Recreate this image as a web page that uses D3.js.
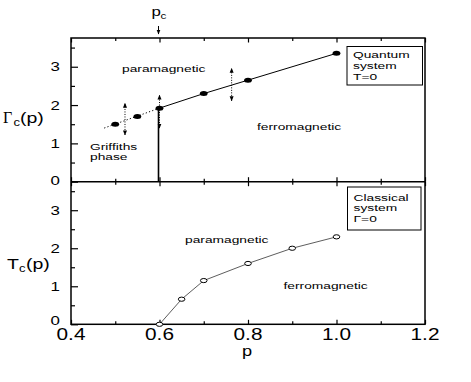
<!DOCTYPE html>
<html>
<head>
<meta charset="utf-8">
<script src="https://cdn.jsdelivr.net/npm/d3@7"></script>
<style>
body { margin: 0; background: #fff; }
text { font-family: "Liberation Sans", Arial, sans-serif; fill: #000; }
</style>
</head>
<body>
<div id="chart"></div>
<script>
// quantum system, T=0 : critical transverse field
const quantumP = [0.5, 0.55, 0.6, 0.7, 0.8, 1.0];
const quantumG = [1.5, 1.7, 1.92, 2.3, 2.65, 3.35];
// classical system, Gamma=0 : critical temperature
const classicalP = [0.6, 0.65, 0.7, 0.8, 0.9, 1.0];
const classicalT = [0, 0.66, 1.15, 1.6, 2.0, 2.3];
// dotted continuation into the Griffiths phase
const griffithsP = [0.475, 0.6];
const griffithsG = [1.4, 1.92];
// dotted double arrows
const arrowP = [0.522, 0.6, 0.763];
const arrowLo = [1.22, 1.4, 2.11];
const arrowHi = [2.05, 2.26, 2.96];
const pc = 0.6;
const xTicks = [0.4, 0.6, 0.8, 1.0, 1.2];
const xMinor = [0.5, 0.7, 0.9, 1.1];
const yTicks = [0, 1, 2, 3];
const yMinor = [0.5, 1.5, 2.5, 3.5];

const W = 471, H = 382;
const LEFT = 71, RIGHT = 425, TOP = 38, MID = 181.7, BOTTOM = 324.3;
const SX = 1.3;   // the original lettering is horizontally stretched
const SMALL = 9.5, SSX = 1.45; // annotation text

const svg = d3.select("#chart").append("svg")
  .attr("width", W)
  .attr("height", H);

const defs = svg.append("defs");
defs.append("marker")
  .attr("id", "head")
  .attr("viewBox", "0 0 10 10")
  .attr("refX", 9).attr("refY", 5)
  .attr("markerWidth", 5).attr("markerHeight", 5)
  .attr("markerUnits", "userSpaceOnUse")
  .attr("orient", "auto-start-reverse")
  .append("path")
  .attr("d", "M0,1L10,5L0,9Z")
  .attr("fill", "#000");

const x = d3.scaleLinear().domain([0.4, 1.2]).range([LEFT, RIGHT]);
const yU = d3.scaleLinear().domain([0, 3.75]).range([MID, TOP]);
const yL = d3.scaleLinear().domain([0, 3.75]).range([BOTTOM, MID]);

function label(x0, y0, txt, size, anchor, sx) {
  return svg.append("text")
    .attr("transform", `translate(${x0},${y0}) scale(${sx || SX},1)`)
    .attr("text-anchor", anchor || "start")
    .attr("font-size", size)
    .text(txt);
}
function note(x0, y0, txt) {
  return label(x0, y0, txt, SMALL, "start", SSX);
}

function styleAxis(g) {
  g.select(".domain").remove();
  g.selectAll("line").attr("stroke", "#000").attr("stroke-width", 1.2);
}

// y axes with inward ticks
[yU, yL].forEach((ys, i) => {
  svg.append("g")
    .attr("transform", `translate(${LEFT},0)`)
    .call(d3.axisLeft(ys).tickValues(yMinor).tickSize(-4).tickFormat(""))
    .call(styleAxis);
  const g = svg.append("g")
    .attr("transform", `translate(${LEFT},0)`)
    .call(d3.axisLeft(ys).tickValues(yTicks).tickSize(-7).tickPadding(11).tickFormat(d3.format("d")))
    .call(styleAxis);
  g.selectAll("text")
    .attr("font-size", 13)
    .attr("font-family", "Liberation Sans, Arial, sans-serif")
    .attr("x", -11 / SX)
    .attr("dy", d => (d === 0 && i === 1) ? "0.05em" : (d === 0 ? "0.2em" : "0.32em"))
    .attr("transform", `scale(${SX},1)`);
});

// x ticks: top of upper panel, shared middle line, bottom
[[TOP, false], [MID, true], [MID, false], [BOTTOM, true]].forEach(([yy, up]) => {
  const dir = up ? d3.axisBottom : d3.axisTop;
  svg.append("g")
    .attr("transform", `translate(0,${yy})`)
    .call(dir(x).tickValues(xTicks).tickSize(-4.5).tickFormat(""))
    .call(styleAxis);
  svg.append("g")
    .attr("transform", `translate(0,${yy})`)
    .call(dir(x).tickValues(xMinor).tickSize(-3).tickFormat(""))
    .call(styleAxis);
});

// x tick labels on the bottom panel
svg.append("g")
  .selectAll("text")
  .data(xTicks)
  .join("text")
  .attr("transform", d => `translate(${x(d)},339.5) scale(${SX},1)`)
  .attr("text-anchor", "middle")
  .attr("font-size", 16)
  .text(d3.format(".1f"));

// frames
svg.append("rect")
  .attr("x", LEFT).attr("y", TOP)
  .attr("width", RIGHT - LEFT).attr("height", BOTTOM - TOP)
  .attr("fill", "none").attr("stroke", "#000").attr("stroke-width", 1.5);
svg.append("line")
  .attr("x1", LEFT).attr("x2", RIGHT)
  .attr("y1", MID).attr("y2", MID)
  .attr("stroke", "#000").attr("stroke-width", 1.5);

// ---- upper panel ----
const lineU = d3.line().x(d => x(d[0])).y(d => yU(d[1]));
svg.append("path")
  .attr("d", lineU(d3.zip(griffithsP, griffithsG)))
  .attr("fill", "none").attr("stroke", "#000")
  .attr("stroke-width", 1).attr("stroke-dasharray", "1.2,2.2");
svg.append("path")
  .attr("d", lineU(d3.zip(quantumP, quantumG).filter(d => d[0] >= pc)))
  .attr("fill", "none").attr("stroke", "#000").attr("stroke-width", 1);
svg.append("line")
  .attr("x1", x(pc) - 1).attr("x2", x(pc) - 1)
  .attr("y1", yU(0)).attr("y2", yU(quantumG[2]))
  .attr("stroke", "#000").attr("stroke-width", 1.6);

svg.append("g")
  .selectAll("ellipse")
  .data(d3.zip(quantumP, quantumG))
  .join("ellipse")
  .attr("cx", d => x(d[0]))
  .attr("cy", d => yU(d[1]))
  .attr("rx", 3.9).attr("ry", 2.5)
  .attr("fill", "#000");

svg.append("g")
  .selectAll("line")
  .data(d3.zip(arrowP, arrowLo, arrowHi))
  .join("line")
  .attr("x1", d => x(d[0])).attr("x2", d => x(d[0]))
  .attr("y1", d => yU(d[1])).attr("y2", d => yU(d[2]))
  .attr("stroke", "#000").attr("stroke-width", 1)
  .attr("stroke-dasharray", "1,1.5")
  .attr("marker-start", "url(#head)")
  .attr("marker-end", "url(#head)");

note(122, 72, "paramagnetic");
note(257, 129.5, "ferromagnetic");
note(90, 149.5, "Griffiths");
note(90, 159.5, "phase");

svg.append("rect")
  .attr("x", 347).attr("y", 46.5).attr("width", 75.5).attr("height", 38.5)
  .attr("fill", "#fff").attr("stroke", "#000").attr("stroke-width", 1);
note(353, 57.5, "Quantum");
note(353, 68.5, "system");
note(353, 79.5, "T=0");

// p_c marker above the frame
label(151.5, 16, "p", 13);
label(160.5, 19, "c", 9);
svg.append("line")
  .attr("x1", x(pc) - 1).attr("x2", x(pc) - 1)
  .attr("y1", 26).attr("y2", 34)
  .attr("stroke", "#000").attr("stroke-width", 1)
  .attr("marker-end", "url(#head)");

// y label, upper: Gamma_c(p)
svg.append("text")
  .attr("x", 3).attr("y", 123)
  .attr("font-size", 16)
  .style("font-family", "Liberation Serif, serif")
  .text("Γ");
label(13.5, 126, "c", 10);
label(20, 123, "(p)", 15);

// ---- lower panel ----
const lineL = d3.line().x(d => x(d[0])).y(d => yL(d[1]));
svg.append("path")
  .attr("d", lineL(d3.zip(classicalP, classicalT)))
  .attr("fill", "none").attr("stroke", "#333").attr("stroke-width", 0.8);
svg.append("g")
  .selectAll("ellipse")
  .data(d3.zip(classicalP, classicalT))
  .join("ellipse")
  .attr("cx", d => x(d[0]))
  .attr("cy", d => yL(d[1]))
  .attr("rx", 3.3).attr("ry", 2.1)
  .attr("fill", "#fff").attr("stroke", "#000").attr("stroke-width", 1);

note(185, 243, "paramagnetic");
note(283.5, 289, "ferromagnetic");

svg.append("rect")
  .attr("x", 347.5).attr("y", 187).attr("width", 73.5).attr("height", 43)
  .attr("fill", "#fff").attr("stroke", "#000").attr("stroke-width", 1);
note(353.5, 200.5, "Classical");
note(353.5, 211, "system");
note(353.5, 221.5, "Γ=0");

// y label, lower: T_c(p)
label(7, 269, "T", 15);
label(19, 272, "c", 10);
label(26, 269, "(p)", 15);

// x label
label(247, 356, "p", 14, "middle");
</script>
</body>
</html>
